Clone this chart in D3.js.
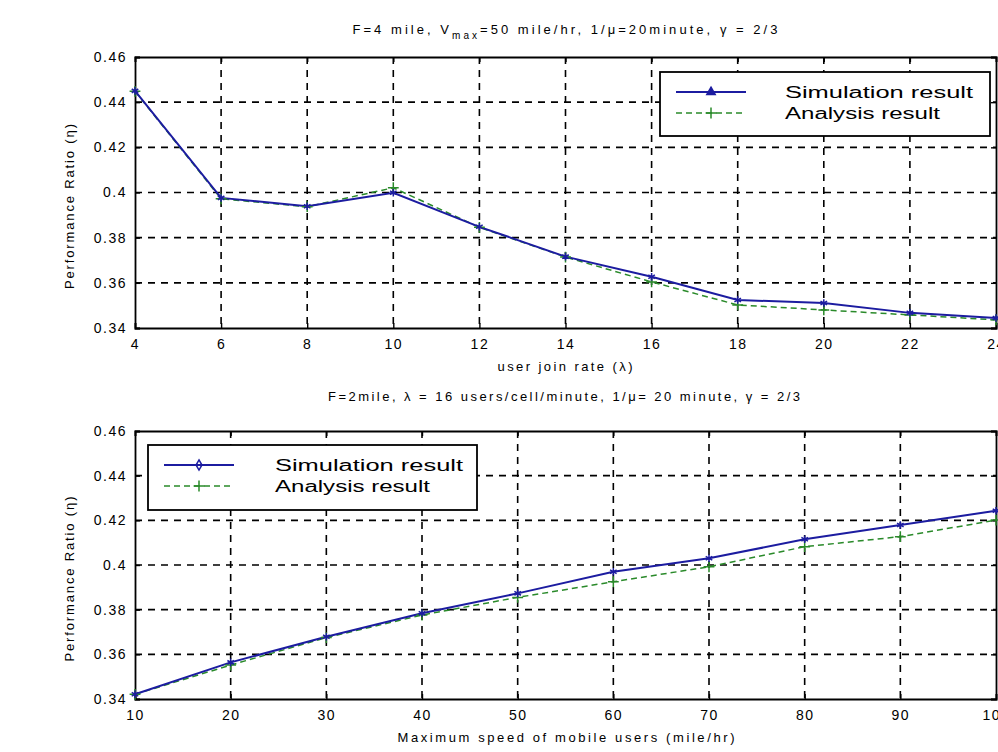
<!DOCTYPE html>
<html>
<head>
<meta charset="utf-8">
<script src="https://cdn.jsdelivr.net/npm/d3@7/dist/d3.min.js"></script>
<style>
  body { margin: 0; background: #fff; }
  svg text { font-family: "Liberation Sans", Arial, sans-serif; fill: #000; }
</style>
</head>
<body>
<svg id="chart" width="998" height="752"></svg>
<script>
// top panel: performance ratio vs user join rate
const joinRate = [4, 6, 8, 10, 12, 14, 16, 18, 20, 22, 24];
const joinSim = [0.4450, 0.3976, 0.3939, 0.3999, 0.3848, 0.3716, 0.3627, 0.3524, 0.3511, 0.3467, 0.3444];
const joinAna = [0.4448, 0.3972, 0.3937, 0.4021, 0.3846, 0.3714, 0.3604, 0.3502, 0.3480, 0.3458, 0.3436];
const joinTicks = [4, 6, 8, 10, 12, 14, 16, 18, 20, 22, 24];

// bottom panel: performance ratio vs maximum speed
const speed = [10, 20, 30, 40, 50, 60, 70, 80, 90, 100];
const speedSim = [0.3421, 0.3564, 0.3679, 0.3784, 0.3873, 0.3970, 0.4030, 0.4115, 0.4179, 0.4243];
const speedAna = [0.3421, 0.3552, 0.3675, 0.3776, 0.3855, 0.3925, 0.3992, 0.4082, 0.4127, 0.4201];
const speedTicks = [10, 20, 30, 40, 50, 60, 70, 80, 90, 100];

const ratioTicks = [0.34, 0.36, 0.38, 0.4, 0.42, 0.44, 0.46];
const legendLabels = ["Simulation result", "Analysis result"];

const svg = d3.select("#chart");
const simColor = "#1c1ca0";
const anaColor = "#2a8a2a";

function drawPanel(p) {
    let x = d3.scaleLinear().domain(p.xDomain).range([p.left, p.right]);
    let y = d3.scaleLinear().domain([0.34, 0.46]).range([p.bottom, p.top]);
    let g = svg.append("g");

    // dashed grid
    g.selectAll(".vgrid").data(p.xTicks.slice(1, -1)).enter().append("line")
        .attr("x1", d => x(d)).attr("x2", d => x(d))
        .attr("y1", p.top).attr("y2", p.bottom)
        .attr("stroke", "#000").attr("stroke-width", 1.6)
        .attr("stroke-dasharray", "7,6");
    g.selectAll(".hgrid").data(ratioTicks.slice(1, -1)).enter().append("line")
        .attr("x1", p.left).attr("x2", p.right)
        .attr("y1", d => y(d)).attr("y2", d => y(d))
        .attr("stroke", "#000").attr("stroke-width", 1.6)
        .attr("stroke-dasharray", "7,6");

    // axes (ticks inside, box all round)
    let tk = 5;
    let bottomAxis = d3.axisBottom(x).tickValues(p.xTicks).tickSize(-tk).tickPadding(11)
        .tickFormat(d3.format("d"));
    let topAxis = d3.axisTop(x).tickValues(p.xTicks).tickSize(-tk).tickFormat("");
    let leftAxis = d3.axisLeft(y).tickValues(ratioTicks).tickSize(-tk).tickPadding(8)
        .tickFormat(d => d3.format("")(+d.toFixed(2)));
    let rightAxis = d3.axisRight(y).tickValues(ratioTicks).tickSize(-tk).tickFormat("");

    let axes = [
        g.append("g").attr("transform", `translate(0,${p.bottom})`).call(bottomAxis),
        g.append("g").attr("transform", `translate(0,${p.top})`).call(topAxis),
        g.append("g").attr("transform", `translate(${p.left},0)`).call(leftAxis),
        g.append("g").attr("transform", `translate(${p.right},0)`).call(rightAxis)
    ];
    axes.forEach(a => {
        a.select(".domain").attr("stroke", "#000").attr("stroke-width", 1.8);
        a.selectAll(".tick line").attr("stroke", "#000").attr("stroke-width", 1.4);
        a.selectAll(".tick text").attr("font-size", 14).attr("letter-spacing", 1.5)
            .attr("font-family", "Liberation Sans, Arial");
    });

    // series
    let line = d3.line().x(d => x(d[0])).y(d => y(d[1]));
    let ana = p.xs.map((v, i) => [v, p.ana[i]]);
    let sim = p.xs.map((v, i) => [v, p.sim[i]]);
    g.append("path").datum(ana).attr("d", line).attr("fill", "none")
        .attr("stroke", anaColor).attr("stroke-width", 1.5).attr("stroke-dasharray", "6,4");
    g.append("path").datum(sim).attr("d", line).attr("fill", "none")
        .attr("stroke", simColor).attr("stroke-width", 2);
    let plus = d3.symbol().type(d3.symbolPlus).size(40);
    let star = d3.symbol().type(d3.symbolAsterisk).size(40);
    g.selectAll(".anaM").data(ana).enter().append("path")
        .attr("d", plus).attr("transform", d => `translate(${x(d[0])},${y(d[1])})`)
        .attr("fill", "none").attr("stroke", anaColor).attr("stroke-width", 1.5);
    g.selectAll(".simM").data(sim).enter().append("path")
        .attr("d", star).attr("transform", d => `translate(${x(d[0])},${y(d[1])})`)
        .attr("fill", "none").attr("stroke", simColor).attr("stroke-width", 1.5);

    // titles
    let t = g.append("text").attr("x", p.titleX).attr("y", p.titleY)
        .attr("text-anchor", "middle").attr("font-size", 13)
        .attr("textLength", p.titleW).attr("lengthAdjust", "spacing");
    p.title(t);
    g.append("text").attr("x", p.xLabelX).attr("y", p.bottom + 43)
        .attr("text-anchor", "middle").attr("font-size", 13)
        .attr("textLength", p.xLabelW).attr("lengthAdjust", "spacing")
        .text(p.xLabel);
    g.append("text")
        .attr("transform", `translate(${p.left - 61},${(p.top + p.bottom) / 2 + 14}) rotate(-90)`)
        .attr("text-anchor", "middle").attr("font-size", 13)
        .attr("textLength", 165).attr("lengthAdjust", "spacing")
        .text("Performance Ratio (η)");

    // legend
    let L = p.legend;
    g.append("rect").attr("x", L.x).attr("y", L.y).attr("width", L.w).attr("height", L.h)
        .attr("fill", "#fff").attr("stroke", "#000").attr("stroke-width", 1.8);
    legendLabels.forEach((lab, i) => {
        let ly = L.y + 20 + i * 21;
        let col = i == 0 ? simColor : anaColor;
        g.append("line").attr("x1", L.x + 16).attr("x2", L.x + 86)
            .attr("y1", ly).attr("y2", ly).attr("stroke", col)
            .attr("stroke-width", i == 0 ? 2 : 1.5)
            .attr("stroke-dasharray", i == 0 ? null : "6,4");
        let sym = i == 0 ? L.sym : plus;
        g.append("path").attr("d", sym).attr("transform", `translate(${L.x + 51},${ly})`)
            .attr("fill", i == 0 && L.fill ? col : "none").attr("stroke", col).attr("stroke-width", 1.5);
        g.append("text").attr("x", L.x + L.tx).attr("y", ly + 6).attr("font-size", 16)
            .attr("textLength", i == 0 ? 188 : 155).attr("lengthAdjust", "spacingAndGlyphs")
            .text(lab);
    });
}

drawPanel({
    xs: joinRate, sim: joinSim, ana: joinAna, xTicks: joinTicks, xDomain: [4, 24],
    left: 135, right: 996, top: 57, bottom: 328,
    titleX: 565, titleY: 34, titleW: 425,
    xLabel: "user join rate (λ)", xLabelX: 565, xLabelW: 135,
    title: t => {
        t.append("tspan").text("F=4 mile, V");
        t.append("tspan").attr("font-size", 10).attr("dy", 5).text("max");
        t.append("tspan").attr("dy", -5).text("=50 mile/hr, 1/μ=20minute, γ = 2/3");
    },
    legend: { x: 660, y: 72, w: 330, h: 64, tx: 125, fill: true,
        sym: d3.symbol().type(d3.symbolTriangle).size(30) }
});

drawPanel({
    xs: speed, sim: speedSim, ana: speedAna, xTicks: speedTicks, xDomain: [10, 100],
    left: 135, right: 996, top: 431, bottom: 699,
    titleX: 564, titleY: 401, titleW: 472,
    xLabel: "Maximum speed of mobile users (mile/hr)", xLabelX: 566, xLabelW: 337,
    title: t => {
        t.text("F=2mile, λ = 16 users/cell/minute, 1/μ= 20 minute, γ = 2/3");
    },
    legend: { x: 148, y: 445, w: 329, h: 65, tx: 127, fill: false,
        sym: d3.symbol().type(d3.symbolDiamond).size(30) }
});
</script>
</body>
</html>
